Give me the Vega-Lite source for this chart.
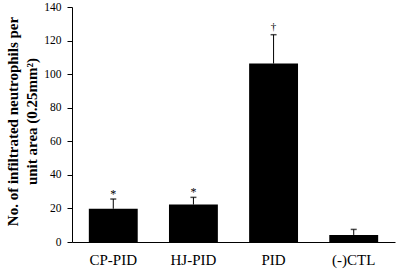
{
  "$schema": "https://vega.github.io/schema/vega-lite/v6.json",
  "width": 323,
  "height": 235,
  "autosize": {"type": "none"},
  "padding": {"left": 72, "top": 7, "right": 4, "bottom": 29},
  "background": "white",
  "config": {
    "view": {"stroke": null},
    "font": "Liberation Serif",
    "axisY": {
      "values": [0, 20, 40, 60, 80, 100, 120, 140],
      "tickCount": 8,
      "labelOverlap": false,
      "grid": false,
      "domainColor": "black",
      "tickColor": "black",
      "tickSize": 5,
      "labelFont": "Liberation Serif",
      "labelFontSize": 11.5,
      "labelColor": "black",
      "labelPadding": 6
    }
  },
  "data": {
    "values": [
      {"group": "CP-PID", "mean": 19.8, "upper": 25.6, "sig": "*"},
      {"group": "HJ-PID", "mean": 22.3, "upper": 26.6, "sig": "*"},
      {"group": "PID", "mean": 106.3, "upper": 123.5, "sig": "†"},
      {"group": "(-)CTL", "mean": 4.2, "upper": 7.5, "sig": ""}
    ]
  },
  "encoding": {
    "x": {
      "field": "group",
      "type": "nominal",
      "sort": null,
      "scale": {"paddingInner": 0.39, "paddingOuter": 0.21},
      "axis": {
        "title": null,
        "labelAngle": 0,
        "labelFont": "Liberation Serif",
        "labelFontSize": 15,
        "labelColor": "black",
        "labelPadding": 10,
        "ticks": false,
        "domainColor": "black",
        "domainWidth": 1
      }
    }
  },
  "layer": [
    {
      "mark": {"type": "bar", "color": "black"},
      "encoding": {
        "y": {
          "field": "mean",
          "type": "quantitative",
          "scale": {"domain": [0, 140], "nice": false},
          "axis": {
            "values": [0, 20, 40, 60, 80, 100, 120, 140],
            "labelOverlap": false,
            "title": ["No. of infiltrated neutrophils per", "unit area (0.25mm²)"],
            "titleFont": "Liberation Serif",
            "titleFontSize": 15,
            "titleFontWeight": "bold",
            "titleColor": "black",
            "titleLineHeight": 19,
            "titleAngle": -90,
            "titleAlign": "center",
            "titleBaseline": "top",
            "titleX": -67,
            "titleY": 114
          }
        }
      }
    },
    {
      "mark": {"type": "rule", "color": "black", "strokeWidth": 1},
      "encoding": {
        "y": {"field": "mean", "type": "quantitative"},
        "y2": {"field": "upper"}
      }
    },
    {
      "mark": {"type": "tick", "color": "black", "size": 6, "thickness": 1.5},
      "encoding": {
        "y": {"field": "upper", "type": "quantitative"}
      }
    },
    {
      "transform": [{"filter": "datum.sig == '*'"}],
      "mark": {"type": "text", "color": "black", "font": "Liberation Serif", "fontSize": 12, "baseline": "alphabetic", "dy": -1},
      "encoding": {
        "y": {"field": "upper", "type": "quantitative"},
        "text": {"field": "sig"}
      }
    },
    {
      "transform": [{"filter": "datum.sig == '†'"}],
      "mark": {"type": "text", "color": "black", "font": "Liberation Serif", "fontSize": 11, "baseline": "alphabetic", "dy": -5},
      "encoding": {
        "y": {"field": "upper", "type": "quantitative"},
        "text": {"field": "sig"}
      }
    }
  ]
}
